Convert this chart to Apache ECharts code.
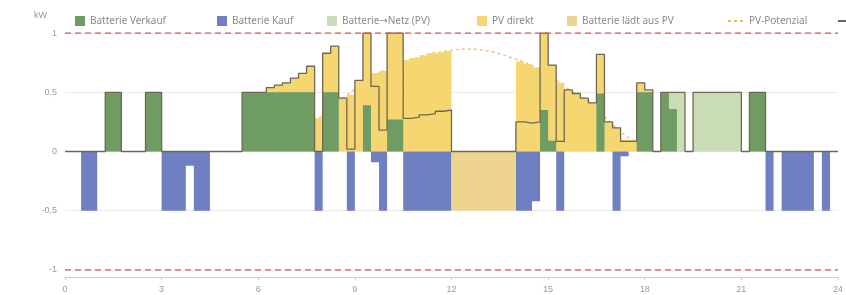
<!doctype html>
<html>
<head>
<meta charset="utf-8">
<title>Batterie Tagesverlauf</title>
<script src="https://cdn.jsdelivr.net/npm/echarts@6.0.0/dist/echarts.min.js"></script>
<style>
  html, body { margin: 0; padding: 0; background: #fff; }
  #main { width: 846px; height: 295px; }
</style>
</head>
<body>
<div id="main"></div>
<script type="text/javascript">
// 15-Minuten-Werte in kW, eine Zeile pro Stunde (0:00 ... 23:45)
var verkauf = [
  0,0,0,0,  0,0.5,0.5,0,  0,0,0.5,0.5,  0,0,0,0,  0,0,0,0,  0,0,0.5,0.5,
  0.5,0.5,0.5,0.5,  0.5,0.5,0.5,0,  0.5,0.5,0,0,  0,0.39,0,0,  0.27,0.27,0,0,  0,0,0,0,
  0,0,0,0,  0,0,0,0,  0,0,0,0.35,  0.09,0,0,0,  0,0,0.49,0,  0,0,0,0.5,
  0.5,0,0.5,0.36,  0,0,0,0,  0,0,0,0,  0,0.5,0.5,0,  0,0,0,0,  0,0,0,0
];
var netzPV = [
  0,0,0,0,  0,0,0,0,  0,0,0,0,  0,0,0,0,  0,0,0,0,  0,0,0,0,
  0,0,0,0,  0,0,0,0,  0,0,0,0,  0,0,0,0,  0,0,0,0,  0,0,0,0,
  0,0,0,0,  0,0,0,0,  0,0,0,0,  0,0,0,0,  0,0,0,0,  0,0,0,0,
  0,0,0,0.14,  0.5,0,0.5,0.5,  0.5,0.5,0.5,0.5,  0,0,0,0,  0,0,0,0,  0,0,0,0
];
var pvDirekt = [
  0,0,0,0,  0,0,0,0,  0,0,0,0,  0,0,0,0,  0,0,0,0,  0,0,0,0,
  0,0.04,0.06,0.08,  0.12,0.16,0.22,0.28,  0.33,0.39,0.45,0.48,  0.6,0.61,0.66,0.68,  0.73,0.73,0.77,0.79,  0.81,0.83,0.84,0.85,
  0,0,0,0,  0,0,0,0,  0.76,0.74,0.71,0.65,  0.64,0.58,0.52,0.49,  0.45,0.41,0.33,0.25,  0.2,0.1,0.1,0.08,
  0.02,0,0,0,  0,0,0,0,  0,0,0,0,  0,0,0,0,  0,0,0,0,  0,0,0,0
];
var kauf = [
  0,0,-0.5,-0.5,  0,0,0,0,  0,0,0,0,  -0.5,-0.5,-0.5,-0.12,  -0.5,-0.5,0,0,  0,0,0,0,
  0,0,0,0,  0,0,0,-0.5,  0,0,0,-0.5,  0,0,-0.09,-0.5,  0,0,-0.5,-0.5,  -0.5,-0.5,-0.5,-0.5,
  0,0,0,0,  0,0,0,0,  -0.5,-0.5,-0.42,0,  0,-0.5,0,0,  0,0,0,0,  -0.5,-0.04,0,0,
  0,0,0,0,  0,0,0,0,  0,0,0,0,  0,0,0,-0.5,  0,-0.5,-0.5,-0.5,  -0.5,0,-0.5,0
];
var laedtPV = [
  0,0,0,0,  0,0,0,0,  0,0,0,0,  0,0,0,0,  0,0,0,0,  0,0,0,0,
  0,0,0,0,  0,0,0,0,  0,0,0,0,  0,0,0,0,  0,0,0,0,  0,0,0,0,
  -0.5,-0.5,-0.5,-0.5,  -0.5,-0.5,-0.5,-0.5,  0,0,0,0,  0,0,0,0,  0,0,0,0,  0,0,0,0,
  0,0,0,0,  0,0,0,0,  0,0,0,0,  0,0,0,0,  0,0,0,0,  0,0,0,0
];
var netz = [
  0,0,0,0,  0,0.5,0.5,0,  0,0,0.5,0.5,  0,0,0,0,  0,0,0,0,  0,0,0.5,0.5,
  0.5,0.54,0.56,0.58,  0.62,0.66,0.72,0,  0.83,0.89,0.45,0.02,  0.6,1,0.55,0.18,  1,1,0.28,0.29,  0.31,0.32,0.34,0.35,
  0,0,0,0,  0,0,0,0,  0.25,0.24,0.25,1,  0.73,0.085,0.52,0.49,  0.45,0.41,0.82,0.25,  0.2,0.085,0.085,0.58,
  0.52,0,0.5,0.5,  0.5,0,0.5,0.5,  0.5,0.5,0.5,0.5,  0,0.5,0.5,0,  0,0,0,0,  0,0,0,0
];
var pvPotenzial = [
  null,null,null,null,  null,null,null,null,  null,null,null,null,  null,null,null,null,  null,null,null,null,  null,null,null,null,
  0.02,0.04,0.06,0.08,  0.12,0.16,0.22,0.28,  0.33,0.39,0.45,0.5,  0.56,0.61,0.65,0.68,  0.71,0.74,0.77,0.79,  0.81,0.83,0.84,0.85,
  0.86,0.865,0.865,0.86,  0.85,0.835,0.815,0.79,  0.77,0.74,0.71,0.67,  0.63,0.58,0.53,0.49,  0.45,0.4,0.33,0.26,  0.2,0.14,0.1,0.06,
  0.02,null,null,null,  null,null,null,null,  null,null,null,null,  null,null,null,null,  null,null,null,null,  null,null,null,null
];
var xTicks = [0, 3, 6, 9, 12, 15, 18, 21, 24];
var grenzen = [1, -1];   // Leistungsgrenze der Batterie

var SLOT = 0.25; // Stunden pro Wert

// positive Anteile übereinander: Verkauf, Batterie->Netz, PV direkt
function summe() {
  var r = [];
  for (var i = 0; i < verkauf.length; i++) {
    var s = 0;
    for (var j = 0; j < arguments.length; j++) s += arguments[j][i];
    r.push(s);
  }
  return r;
}
var stufe1 = summe(verkauf);
var stufe2 = summe(verkauf, netzPV);
var stufe3 = summe(verkauf, netzPV, pvDirekt);

function stepData(arr) {
  var d = [];
  for (var i = 0; i < arr.length; i++) d.push([i * SLOT, arr[i]]);
  d.push([24, arr[arr.length - 1]]);
  return d;
}
function midData(arr) {
  var d = [];
  for (var i = 0; i < arr.length; i++) d.push([i * SLOT + SLOT / 2, arr[i]]);
  return d;
}
function flaeche(name, arr, color) {
  return {
    name: name, type: 'line', step: 'end',
    data: stepData(arr), symbol: 'none', showSymbol: false,
    color: color, itemStyle: { color: color },
    lineStyle: { width: 0, opacity: 0 },
    areaStyle: { color: color, opacity: 1, origin: 0 },
    z: 2, silent: true
  };
}
function grenze(g) {
  return {
    type: 'line', data: [[xTicks[0], g], [xTicks[xTicks.length - 1], g]],
    symbol: 'none', showSymbol: false, silent: true, z: 4,
    lineStyle: { color: '#dc5555', type: [6, 4], width: 1.2 }
  };
}

var txt = { color: '#8a8a8a', fontSize: 10, fontFamily: "'Noto Sans', 'DejaVu Sans', sans-serif" };
function legende(name, left, extra) {
  var l = { data: [name], left: left, top: 11, itemWidth: 10, itemHeight: 10,
            icon: 'rect', textStyle: txt, selectedMode: false };
  for (var k in (extra || {})) l[k] = extra[k];
  return l;
}

var myChart = echarts.init(document.getElementById('main'));
var option = {
  animation: false,
  legend: [
    legende('Batterie Verkauf', 70),
    legende('Batterie Kauf', 212),
    legende('Batterie→Netz (PV)', 322),
    legende('PV direkt', 472),
    legende('Batterie lädt aus PV', 562),
    legende('PV-Potenzial', 722, { icon: null, itemWidth: 16, itemStyle: { opacity: 0 } }),
    legende('Netzbilanz', 832, { icon: null, itemWidth: 16, itemStyle: { opacity: 0 } })
  ],
  grid: { left: 65, right: 1, top: 26, bottom: 18 },
  xAxis: {
    type: 'value', min: xTicks[0], max: xTicks[xTicks.length - 1], interval: 3,
    axisLine: { show: true, onZero: false, lineStyle: { color: '#cfcfcf' } },
    axisTick: { show: true, length: 3, lineStyle: { color: '#cfcfcf' } },
    minorTick: { show: true, splitNumber: 12, length: 2, lineStyle: { color: '#dedede' } },
    axisLabel: { color: '#9a9a9a', fontSize: 9, margin: 8 },
    splitLine: { show: false }
  },
  yAxis: {
    type: 'value', min: -1.06, max: 1.06,
    name: 'kW', nameLocation: 'end', nameGap: 6,
    nameTextStyle: { color: '#9a9a9a', fontSize: 9, align: 'right', padding: [0, 18, 0, 0] },
    axisLine: { show: false }, axisTick: { show: false },
    axisLabel: {
      color: '#9a9a9a', fontSize: 9, margin: 8, showMinLabel: false, showMaxLabel: false,
      formatter: function (v) {
        if (Math.abs(v) > 1.001) return '';
        return String(v).replace('.', ',');
      }
    },
    splitLine: { show: true, showMinLine: false, showMaxLine: false, lineStyle: { color: '#ececec' } }
  },
  series: [
    {
      name: 'PV-Potenzial', type: 'line', smooth: 0.3, data: midData(pvPotenzial),
      symbol: 'none', showSymbol: false, color: '#e3bf62',
      lineStyle: { color: '#e3bf62', width: 1.2, type: [3, 3] }, z: 1, silent: true
    },
    flaeche('PV direkt', stufe3, '#f5d670'),
    flaeche('Batterie→Netz (PV)', stufe2, '#cadcb6'),
    flaeche('Batterie Verkauf', stufe1, '#6e9c62'),
    flaeche('Batterie Kauf', kauf, '#6e80c2'),
    flaeche('Batterie lädt aus PV', laedtPV, '#edd48f'),
    {
      name: 'Netzbilanz', type: 'line', step: 'end', data: stepData(netz),
      symbol: 'none', showSymbol: false, color: '#6f6753',
      lineStyle: { color: '#6f6753', width: 1.3 }, z: 3, silent: true
    }
  ].concat(grenzen.map(grenze))
};
myChart.setOption(option);
</script>
</body>
</html>
